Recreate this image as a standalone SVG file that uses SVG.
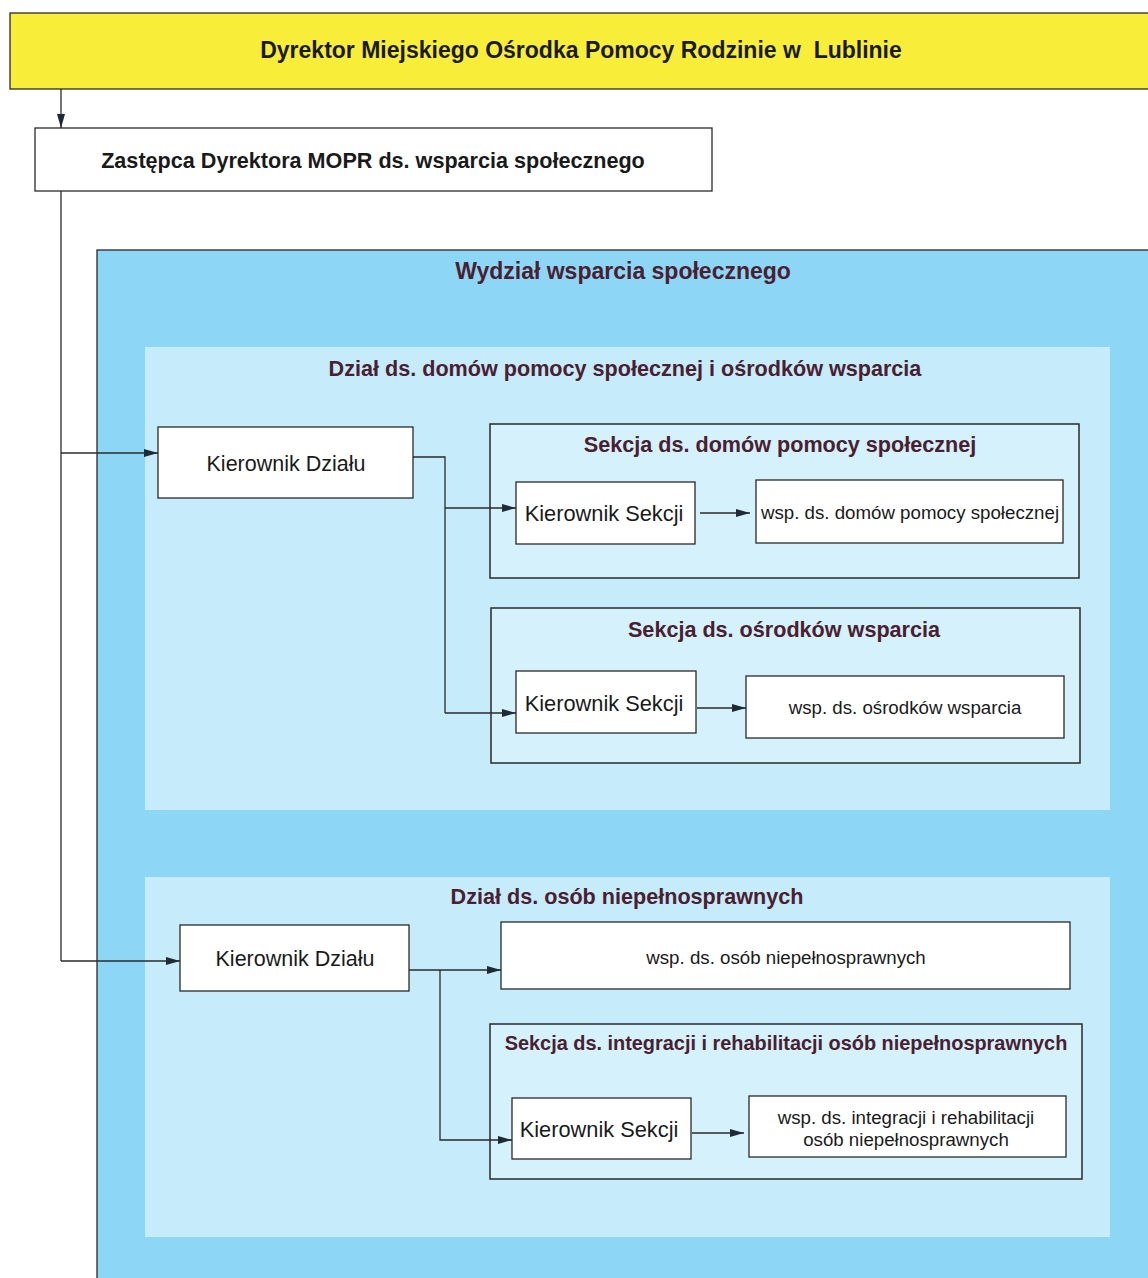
<svg xmlns="http://www.w3.org/2000/svg" width="1148" height="1278" viewBox="0 0 1148 1278">
<defs>
<marker id="ah" viewBox="0 0 14 10" refX="14" refY="5" markerWidth="14" markerHeight="10" markerUnits="userSpaceOnUse" orient="auto">
<path d="M0,1 L14,5 L0,9 z" fill="#1e2a35"/>
</marker>
<style>
.box{fill:#ffffff;stroke:#2a2a2a;stroke-width:1.3}
.sek{fill:#d4f1fc;stroke:#2a2a2a;stroke-width:1.5}
.t{font-family:"Liberation Sans",Arial,sans-serif;text-anchor:middle;fill:#1a1a1a}
.b{font-weight:bold}
.h{font-family:"Liberation Sans",Arial,sans-serif;text-anchor:middle;font-weight:bold;fill:#4a2030}
.c{fill:none;stroke:#2a2a2a;stroke-width:1.3}
</style>
</defs>
<rect width="1148" height="1278" fill="#ffffff"/>
<g id="dyrektor">
<rect x="10" y="13" width="1150" height="76" fill="#f8ee3a" stroke="#2a2a2a" stroke-width="1.3"/>
<text class="t b" x="581" y="58" font-size="23" fill="#222" xml:space="preserve">Dyrektor Miejskiego Ośrodka Pomocy Rodzinie w  Lublinie</text>
</g>
<g id="zastepca">
<rect class="box" x="35" y="128" width="677" height="63"/>
<text class="t b" x="373" y="168" font-size="21.6">Zastępca Dyrektora MOPR ds. wsparcia społecznego</text>
</g>
<g id="wydzial">
<rect x="97" y="250" width="1060" height="1040" fill="#8ed6f6" stroke="#2a2a2a" stroke-width="1.3"/>
<text class="h" x="623" y="279" font-size="23">Wydział wsparcia społecznego</text>
</g>
<g id="dzial1">
<rect x="145" y="347" width="965" height="463" fill="#c6ecfb"/>
<text class="h" x="625" y="376" font-size="21.6">Dział ds. domów pomocy społecznej i ośrodków wsparcia</text>
</g>
<g id="dzial2">
<rect x="145" y="877" width="965" height="360" fill="#c6ecfb"/>
<text class="h" x="627" y="904" font-size="21.6">Dział ds. osób niepełnosprawnych</text>
</g>
<g id="kier-dzialu-1">
<rect class="box" x="158" y="427" width="255" height="71"/>
<text class="t" x="286" y="471" font-size="21.5">Kierownik Działu</text>
</g>
<g id="sekcja1">
<rect class="sek" x="490" y="424" width="589" height="154"/>
<text class="h" x="780" y="452" font-size="21.6">Sekcja ds. domów pomocy społecznej</text>
</g>
<g id="kier-sekcji-1">
<rect class="box" x="516" y="482" width="179" height="62"/>
<text class="t" x="604" y="521" font-size="21.8">Kierownik Sekcji</text>
</g>
<g id="wsp-dps">
<rect class="box" x="756" y="480" width="307" height="63"/>
<text class="t" x="910" y="519" font-size="18.7">wsp. ds. domów pomocy społecznej</text>
</g>
<g id="sekcja2">
<rect class="sek" x="491" y="608" width="589" height="155"/>
<text class="h" x="784" y="637" font-size="21.6">Sekcja ds. ośrodków wsparcia</text>
</g>
<g id="kier-sekcji-2">
<rect class="box" x="516" y="671" width="180" height="62"/>
<text class="t" x="604" y="711" font-size="21.8">Kierownik Sekcji</text>
</g>
<g id="wsp-ow">
<rect class="box" x="746" y="676" width="318" height="62"/>
<text class="t" x="905" y="714" font-size="18.7">wsp. ds. ośrodków wsparcia</text>
</g>
<g id="kier-dzialu-2">
<rect class="box" x="180" y="925" width="229" height="66"/>
<text class="t" x="295" y="966" font-size="21.5">Kierownik Działu</text>
</g>
<g id="wsp-on">
<rect class="box" x="501" y="922" width="569" height="67"/>
<text class="t" x="786" y="964" font-size="18.7">wsp. ds. osób niepełnosprawnych</text>
</g>
<g id="sekcja3">
<rect class="sek" x="490" y="1024" width="592" height="155"/>
<text class="h" x="786" y="1050" font-size="19.9">Sekcja ds. integracji i rehabilitacji osób niepełnosprawnych</text>
</g>
<g id="kier-sekcji-3">
<rect class="box" x="512" y="1098" width="179" height="61"/>
<text class="t" x="599" y="1137" font-size="21.8">Kierownik Sekcji</text>
</g>
<g id="wsp-irn">
<rect class="box" x="749" y="1096" width="317" height="61"/>
<text class="t" x="906" y="1124" font-size="18.7">wsp. ds. integracji i rehabilitacji</text>
<text class="t" x="906" y="1146" font-size="18.7">osób niepełnosprawnych</text>
</g>
<g id="connectors">
<path class="c" d="M61,89 V128" marker-end="url(#ah)"/>
<path class="c" d="M61,191 V961"/>
<path class="c" d="M61,453 H158" marker-end="url(#ah)"/>
<path class="c" d="M61,961 H180" marker-end="url(#ah)"/>
<path class="c" d="M413,457 H445 V713"/>
<path class="c" d="M445,508 H516" marker-end="url(#ah)"/>
<path class="c" d="M445,713 H516" marker-end="url(#ah)"/>
<path class="c" d="M700,513 H750" marker-end="url(#ah)"/>
<path class="c" d="M697,708 H746" marker-end="url(#ah)"/>
<path class="c" d="M409,970 H501" marker-end="url(#ah)"/>
<path class="c" d="M440,970 V1140 H512" marker-end="url(#ah)"/>
<path class="c" d="M692,1133 H744" marker-end="url(#ah)"/>
</g>
</svg>
